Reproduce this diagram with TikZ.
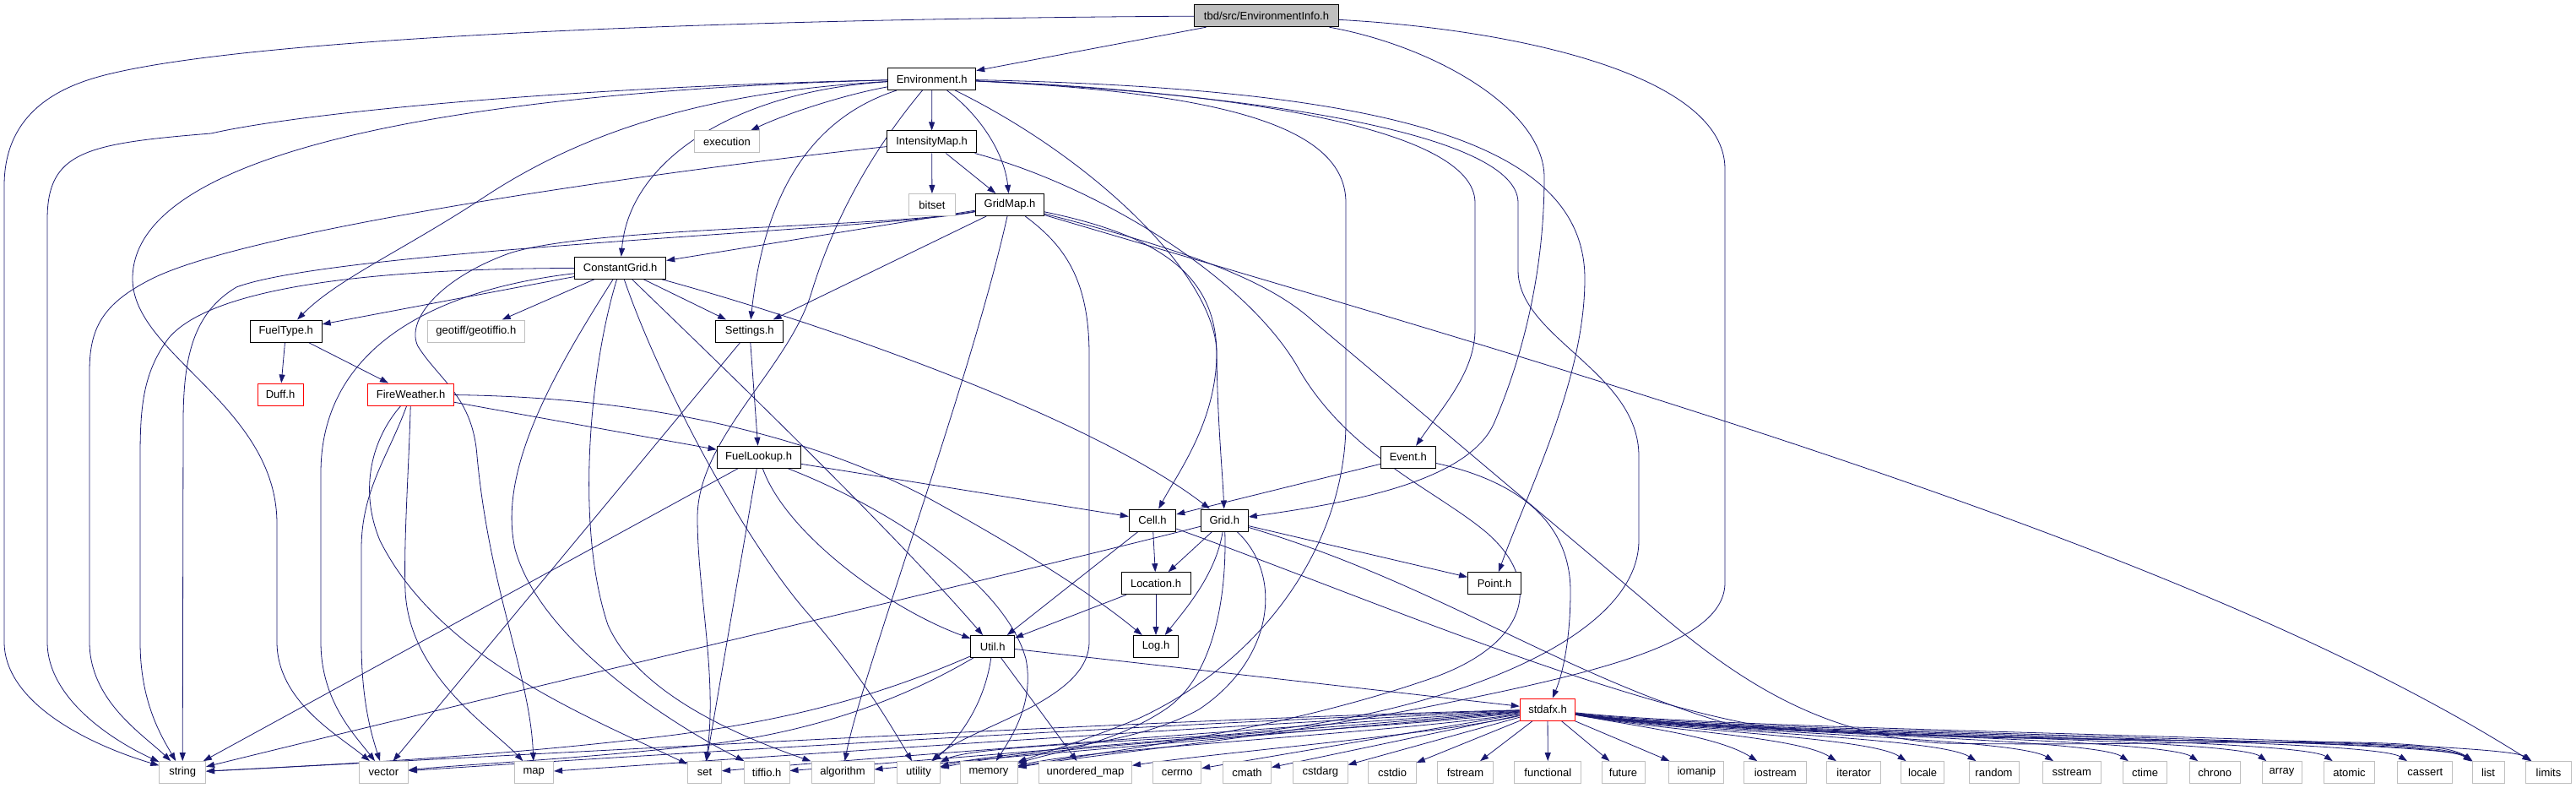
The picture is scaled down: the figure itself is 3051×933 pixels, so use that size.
\documentclass[tikz,border=0pt]{standalone}
\usepackage{fontspec}
\setmainfont{Liberation Sans}
\usetikzlibrary{arrows.meta}
\definecolor{edgec}{HTML}{191970}
\definecolor{sysg}{HTML}{BFBFBF}
\pgfdeclarelayer{bg}
\pgfsetlayers{bg,main}
\begin{document}
\begin{tikzpicture}[x=1pt,y=-1pt,
  nb/.style={rectangle, inner sep=0pt, minimum height=26pt, line width=1pt, fill=white, font=\fontsize{13}{15}\selectfont, text=black},
  hdr/.style={nb, draw=black},
  sys/.style={nb, draw=sysg},
  redh/.style={nb, draw=red},
  rootbox/.style={nb, draw=black, fill=sysg},
  e/.style={draw=edgec, line width=0.8pt, -{Triangle[length=10pt,width=7pt]}}]
\useasboundingbox (0,0) rectangle (3051,933);
% nodes
\node[rootbox, minimum width=171pt] (info) at (1500,18.7) {tbd/src/EnvironmentInfo.h};
\node[hdr, minimum width=104pt] (env) at (1103.7,93.5) {Environment.h};
\node[hdr, minimum width=106pt] (imap) at (1103.6,168) {IntensityMap.h};
\node[sys, minimum width=77pt] (exe) at (861,168) {execution};
\node[sys, minimum width=55pt] (bitset) at (1104,242.5) {bitset};
\node[hdr, minimum width=81pt] (gridmap) at (1196,242.5) {GridMap.h};
\node[hdr, minimum width=108pt] (cgrid) at (734.7,317.3) {ConstantGrid.h};
\node[hdr, minimum width=85pt] (fueltype) at (338.7,392) {FuelType.h};
\node[sys, minimum width=115pt] (geotiff) at (563.8,392) {geotiff/geotiffio.h};
\node[hdr, minimum width=80pt] (settings) at (887.8,392) {Settings.h};
\node[redh, minimum width=54pt] (duff) at (332,467) {Duff.h};
\node[redh, minimum width=102pt] (fw) at (486.6,467) {FireWeather.h};
\node[hdr, minimum width=99pt] (fl) at (898.6,541.3) {FuelLookup.h};
\node[hdr, minimum width=65pt] (event) at (1667.8,541.3) {Event.h};
\node[hdr, minimum width=55.5pt] (cell) at (1365,616) {Cell.h};
\node[hdr, minimum width=56pt] (grid) at (1450.3,616) {Grid.h};
\node[hdr, minimum width=82pt] (location) at (1369,690.7) {Location.h};
\node[hdr, minimum width=63pt] (point) at (1770,690.7) {Point.h};
\node[hdr, minimum width=51.6pt] (util) at (1175.7,765.5) {Util.h};
\node[hdr, minimum width=53.5pt] (log) at (1369,765.5) {Log.h};
\node[redh, minimum width=65.6pt] (stdafx) at (1833,840) {stdafx.h};
% bottom row
\node[sys, minimum width=54.8pt] (string) at (216.2,914.6) {string};
\node[sys, minimum width=58pt] (vector) at (454.4,914.6) {vector};
\node[sys, minimum width=46.6pt] (map) at (632.3,914.6) {map};
\node[sys, minimum width=40pt] (set) at (834.5,914.6) {set};
\node[sys, minimum width=53.6pt] (tiffio) at (908.2,914.6) {tiffio.h};
\node[sys, minimum width=74pt] (algorithm) at (998,914.6) {algorithm};
\node[sys, minimum width=50.5pt] (utility) at (1088,914.6) {utility};
\node[sys, minimum width=68pt] (memory) at (1171,914.6) {memory};
\node[sys, minimum width=110pt] (umap) at (1285.5,914.6) {unordered\_map};
\node[sys, minimum width=57pt] (cerrno) at (1394.2,914.6) {cerrno};
\node[sys, minimum width=57pt] (cmath) at (1477,914.6) {cmath};
\node[sys, minimum width=64.4pt] (cstdarg) at (1563.8,914.6) {cstdarg};
\node[sys, minimum width=56.5pt] (cstdio) at (1649,914.6) {cstdio};
\node[sys, minimum width=65.6pt] (fstream) at (1735.4,914.6) {fstream};
\node[sys, minimum width=79pt] (functional) at (1833.3,914.6) {functional};
\node[sys, minimum width=51pt] (future) at (1922.5,914.6) {future};
\node[sys, minimum width=65.3pt] (iomanip) at (2009.3,914.6) {iomanip};
\node[sys, minimum width=73.7pt] (iostream) at (2102.7,914.6) {iostream};
\node[sys, minimum width=64.5pt] (iterator) at (2195.7,914.6) {iterator};
\node[sys, minimum width=50.5pt] (locale) at (2277.2,914.6) {locale};
\node[sys, minimum width=59pt] (random) at (2361.5,914.6) {random};
\node[sys, minimum width=69.6pt] (sstream) at (2453.8,914.6) {sstream};
\node[sys, minimum width=52pt] (ctime) at (2540.6,914.6) {ctime};
\node[sys, minimum width=60.6pt] (chrono) at (2623.3,914.6) {chrono};
\node[sys, minimum width=47pt] (array) at (2702.5,914.6) {array};
\node[sys, minimum width=59.7pt] (atomic) at (2782.5,914.6) {atomic};
\node[sys, minimum width=65.3pt] (cassert) at (2872.3,914.6) {cassert};
\node[sys, minimum width=38pt] (list) at (2947,914.6) {list};
\node[sys, minimum width=54pt] (limits) at (3018.5,914.6) {limits};

\begin{pgfonlayer}{bg}
% info
\draw[e] (info) -- (env);
\draw[e] (info) .. controls (900,22) and (300,42) .. (120,90) .. controls (60,106) and (5,140) .. (5,220) -- (5,760) .. controls (5,830) and (100,880) .. (string);
\draw[e] (info) .. controls (1700,55) and (1829,130) .. (1829,210) .. controls (1829,330) and (1800,430) .. (1770,500) .. controls (1740,570) and (1600,595) .. (grid);
\draw[e] (info) .. controls (1800,35) and (2043,90) .. (2043,200) -- (2043,690) .. controls (2043,760) and (1900,795) .. (1700,835) .. controls (1500,875) and (1300,892) .. (memory);
% env
\draw[e] (env) .. controls (1000,112) and (930,135) .. (exe);
\draw[e] (env) -- (imap);
\draw[e] (env) .. controls (1165,140) and (1190,185) .. (gridmap);
\draw[e] (env) .. controls (870,108) and (745,190) .. (cgrid);
\draw[e] (env) .. controls (850,108) and (700,150) .. (574,233) .. controls (480,295) and (400,330) .. (fueltype);
\draw[e] (env) .. controls (960,140) and (905,230) .. (settings);
\draw[e] (env) .. controls (1300,190) and (1442,330) .. (1441,420) .. controls (1440,500) and (1395,560) .. (cell);
\draw[e] (env) .. controls (1450,108) and (1747,150) .. (1747,240) -- (1747,390) .. controls (1747,440) and (1710,480) .. (event);
\draw[e] (env) .. controls (1650,105) and (1877,170) .. (1877,330) .. controls (1877,450) and (1810,580) .. (point);
\draw[e] (env) .. controls (650,104) and (350,135) .. (250,158) .. controls (100,170) and (56,180) .. (56,260) -- (56,760) .. controls (56,830) and (140,880) .. (string);
\draw[e] (env) .. controls (700,104) and (157,150) .. (157,330) .. controls (157,420) and (328,480) .. (328,620) -- (328,760) .. controls (328,830) and (400,870) .. (vector);
\draw[e] (env) .. controls (1040,170) and (990,250) .. (960,350) .. controls (930,440) and (826,520) .. (826,613) .. controls (826,700) and (850,800) .. (set);
\draw[e] (env) .. controls (1450,110) and (1594,150) .. (1594,240) -- (1594,500) .. controls (1594,640) and (1500,780) .. (1350,850) .. controls (1290,875) and (1240,890) .. (memory);
\draw[e] (env) .. controls (1500,112) and (1798,160) .. (1798,240) -- (1798,320) .. controls (1798,400) and (1941,440) .. (1941,540) -- (1941,640) .. controls (1941,760) and (1700,850) .. (1450,870) .. controls (1300,880) and (1150,885) .. (utility);
% imap
\draw[e] (imap) -- (bitset);
\draw[e] (imap) -- (gridmap);
\draw[e] (imap) .. controls (800,200) and (300,270) .. (180,330) .. controls (120,360) and (106,390) .. (106,440) -- (106,760) .. controls (106,830) and (170,870) .. (string);
\draw[e] (imap) .. controls (1300,220) and (1480,330) .. (1540,440) .. controls (1600,540) and (1700,580) .. (1760,630) .. controls (1830,690) and (1810,765) .. (1690,805) .. controls (1500,870) and (1300,890) .. (memory);
% gridmap
\draw[e] (gridmap) -- (cgrid);
\draw[e] (gridmap) -- (settings);
\draw[e] (gridmap) .. controls (1380,280) and (1441,330) .. (1441,420) .. controls (1442,500) and (1448,560) .. (grid);
\draw[e] (gridmap) .. controls (1050,272) and (400,295) .. (280,340) .. controls (230,370) and (217,420) .. (217,500) -- (string);
\draw[e] (gridmap) .. controls (1050,270) and (700,268) .. (603,300) .. controls (520,330) and (480,380) .. (495,410) .. controls (520,450) and (560,470) .. (565,540) .. controls (580,700) and (628,800) .. (map);
\draw[e] (gridmap) .. controls (1150,450) and (1020,800) .. (algorithm);
\draw[e] (gridmap) .. controls (1260,290) and (1290,330) .. (1290,420) -- (1290,760) .. controls (1290,830) and (1150,860) .. (utility);
\draw[e] (gridmap) .. controls (1400,295) and (1500,330) .. (1555,380) -- (1950,713) .. controls (2050,800) and (2150,870) .. (2300,880) .. controls (2600,885) and (2880,866) .. (list);
\draw[e] (gridmap) .. controls (1900,450) and (2600,650) .. (limits);
% cgrid
\draw[e] (cgrid) -- (fueltype);
\draw[e] (cgrid) -- (geotiff);
\draw[e] (cgrid) -- (settings);
\draw[e] (cgrid) .. controls (1000,390) and (1300,500) .. (grid);
\draw[e] (cgrid) .. controls (820,400) and (1050,620) .. (util);
\draw[e] (cgrid) .. controls (500,318) and (260,330) .. (200,400) .. controls (170,440) and (166,480) .. (166,540) -- (166,760) .. controls (166,830) and (190,870) .. (string);
\draw[e] (cgrid) .. controls (500,345) and (380,420) .. (380,560) -- (380,760) .. controls (380,830) and (420,870) .. (vector);
\draw[e] (cgrid) .. controls (650,450) and (590,560) .. (610,650) .. controls (640,760) and (800,860) .. (tiffio);
\draw[e] (cgrid) .. controls (700,430) and (680,620) .. (720,740) .. controls (760,830) and (900,880) .. (algorithm);
\draw[e] (cgrid) .. controls (780,450) and (880,640) .. (960,730) .. controls (1020,800) and (1050,850) .. (utility);
% fueltype, fireweather
\draw[e] (fueltype) -- (duff);
\draw[e] (fueltype) -- (fw);
\draw[e] (fw) -- (fl);
\draw[e] (fw) .. controls (750,470) and (950,510) .. (1100,590) .. controls (1200,645) and (1290,700) .. (log);
\draw[e] (fw) .. controls (440,520) and (425,580) .. (450,640) .. controls (520,780) and (700,850) .. (set);
\draw[e] (fw) .. controls (460,540) and (428,580) .. (428,650) -- (428,760) .. controls (428,830) and (440,870) .. (vector);
\draw[e] (fw) .. controls (484,560) and (478,640) .. (480,700) .. controls (485,800) and (580,860) .. (map);
% settings, fuellookup
\draw[e] (settings) -- (fl);
\draw[e] (settings) -- (vector);
\draw[e] (fl) -- (cell);
\draw[e] (fl) -- (string);
\draw[e] (fl) -- (set);
\draw[e] (fl) .. controls (930,630) and (1050,720) .. (util);
\draw[e] (fl) .. controls (1050,600) and (1190,690) .. (1215,780) .. controls (1225,830) and (1200,870) .. (memory);
% event
\draw[e] (event) -- (cell);
\draw[e] (event) .. controls (1800,570) and (1860,620) .. (1860,700) .. controls (1860,760) and (1850,800) .. (stdafx);
% cell
\draw[e] (cell) -- (location);
\draw[e] (cell) -- (util);
\draw[e] (cell) .. controls (1600,700) and (1900,830) .. (2100,862) .. controls (2400,885) and (2880,868) .. (list);
% grid
\draw[e] (grid) -- (location);
\draw[e] (grid) .. controls (1440,680) and (1405,720) .. (log);
\draw[e] (grid) -- (point);
\draw[e] (grid) .. controls (1200,680) and (600,820) .. (string);
\draw[e] (grid) .. controls (1453,700) and (1440,800) .. (1380,840) .. controls (1320,880) and (1250,890) .. (memory);
\draw[e] (grid) .. controls (1520,680) and (1510,780) .. (1420,840) .. controls (1330,890) and (1180,890) .. (utility);
\draw[e] (grid) .. controls (1700,690) and (1850,800) .. (2050,858) .. controls (2300,882) and (2880,870) .. (list);
% location
\draw[e] (location) -- (log);
\draw[e] (location) -- (util);
% util
\draw[e] (util) -- (stdafx);
\draw[e] (util) .. controls (1050,820) and (950,850) .. (800,870) .. controls (600,895) and (400,905) .. (string);
\draw[e] (util) .. controls (1100,810) and (1000,860) .. (850,880) .. controls (700,898) and (550,905) .. (vector);
\draw[e] (util) .. controls (1165,840) and (1130,880) .. (utility);
\draw[e] (util) -- (umap);
% stdafx
\draw[e] (stdafx) .. controls (1400,850) and (600,895) .. (string);
\draw[e] (stdafx) .. controls (1450,852) and (700,898) .. (vector);
\draw[e] (stdafx) .. controls (1500,855) and (850,900) .. (map);
\draw[e] (stdafx) .. controls (1550,858) and (1000,900) .. (set);
\draw[e] (stdafx) .. controls (1580,860) and (1100,900) .. (tiffio);
\draw[e] (stdafx) .. controls (1600,862) and (1200,895) .. (algorithm);
\draw[e] (stdafx) .. controls (1620,865) and (1250,880) .. (utility);
\draw[e] (stdafx) .. controls (1650,868) and (1300,885) .. (memory);
\draw[e] (stdafx) .. controls (1700,870) and (1450,890) .. (umap);
\draw[e] (stdafx) -- (cerrno);
\draw[e] (stdafx) -- (cmath);
\draw[e] (stdafx) -- (cstdarg);
\draw[e] (stdafx) -- (cstdio);
\draw[e] (stdafx) -- (fstream);
\draw[e] (stdafx) -- (functional);
\draw[e] (stdafx) -- (future);
\draw[e] (stdafx) -- (iomanip);
\draw[e] (stdafx) .. controls (1950,862) and (2035,872) .. (iostream);
\draw[e] (stdafx) .. controls (1960,864) and (2130,872) .. (iterator);
\draw[e] (stdafx) .. controls (1970,865) and (2215,872) .. (locale);
\draw[e] (stdafx) .. controls (1980,866) and (2295,872) .. (random);
\draw[e] (stdafx) .. controls (1990,867) and (2385,872) .. (sstream);
\draw[e] (stdafx) .. controls (2000,868) and (2478,872) .. (ctime);
\draw[e] (stdafx) .. controls (2010,869) and (2560,872) .. (chrono);
\draw[e] (stdafx) .. controls (2020,870) and (2645,872) .. (array);
\draw[e] (stdafx) .. controls (2030,870) and (2720,872) .. (atomic);
\draw[e] (stdafx) .. controls (2040,870) and (2805,872) .. (cassert);
\draw[e] (stdafx) .. controls (2050,868) and (2890,874) .. (list);
\draw[e] (stdafx) .. controls (2060,866) and (2958,874) .. (limits);
\end{pgfonlayer}
\end{tikzpicture}
\end{document}
